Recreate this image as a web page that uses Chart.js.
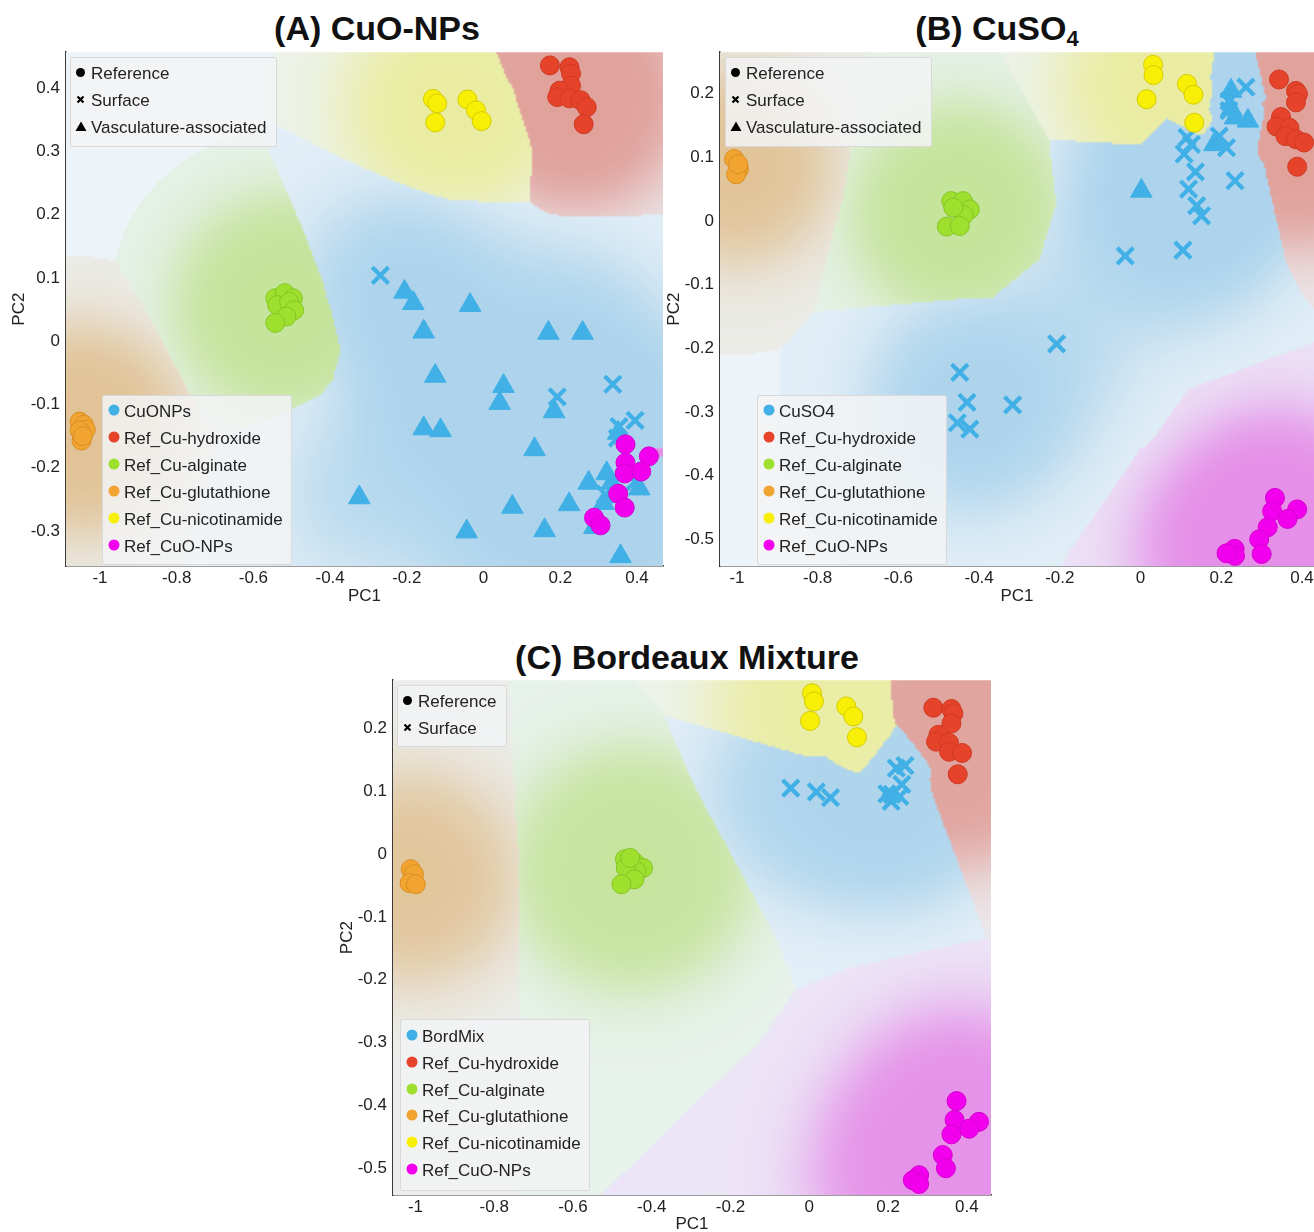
<!DOCTYPE html>
<html><head><meta charset="utf-8">
<script src="https://cdn.jsdelivr.net/npm/chart.js@4.4.0/dist/chart.umd.min.js"></script>
<style>
html,body{margin:0;padding:0;background:#fff;width:1314px;height:1232px;overflow:hidden;font-family:"Liberation Sans",Arial,sans-serif;}
.title{position:absolute;font-weight:bold;font-size:34px;line-height:38px;color:#111;white-space:nowrap;transform:translateX(-50%);}
.title sub{font-size:22px;vertical-align:-6px;line-height:0;}
canvas{position:absolute;}
.legend{position:absolute;background:rgba(242,243,244,0.86);border:1px solid #d9d9d9;border-radius:2px;z-index:5;}
.item{position:absolute;white-space:nowrap;font-size:17px;line-height:20px;color:#222;}
.sym{position:absolute;}
</style></head><body>
<div class="title" style="left:377px;top:9px;">(A) CuO-NPs</div>
<div class="title" style="left:997px;top:9px;">(B) CuSO<sub>4</sub></div>
<div class="title" style="left:687px;top:638px;">(C) Bordeaux Mixture</div>
<canvas id="cA"></canvas>
<canvas id="cB"></canvas>
<canvas id="cC"></canvas>
<script>
// ---------------- DATA ----------------
const xTicks  = [-1, -0.8, -0.6, -0.4, -0.2, 0, 0.2, 0.4];
const yTicksA = [-0.3, -0.2, -0.1, 0, 0.1, 0.2, 0.3, 0.4];
const yTicksB = [-0.5, -0.4, -0.3, -0.2, -0.1, 0, 0.1, 0.2];
const yTicksC = [-0.5, -0.4, -0.3, -0.2, -0.1, 0, 0.1, 0.2];

const shapeNames = ['Reference', 'Surface', 'Vasculature-associated'];
const refNames = ['Ref_Cu-hydroxide', 'Ref_Cu-alginate', 'Ref_Cu-glutathione', 'Ref_Cu-nicotinamide', 'Ref_CuO-NPs'];
const sampleNames = ['CuONPs', 'CuSO4', 'BordMix'];

// Panel A: CuO-NPs
const A_vasc = [[-0.206,0.078],[-0.183,0.060],[-0.035,0.057],[-0.156,0.015],[0.169,0.013],[0.258,0.013],
  [-0.126,-0.055],[0.052,-0.071],[0.042,-0.098],[0.184,-0.111],[-0.156,-0.138],[-0.112,-0.141],
  [0.133,-0.171],[-0.324,-0.247],[0.075,-0.262],[-0.044,-0.301],[0.159,-0.299],[0.223,-0.258],
  [0.274,-0.224],[0.321,-0.209],[0.334,-0.224],[0.406,-0.233],[0.313,-0.256],[0.289,-0.294],
  [0.357,-0.340],[0.351,-0.145]];
const A_surf = [[-0.269,0.104],[0.192,-0.088],[0.337,-0.068],[0.395,-0.125],[0.353,-0.135],[0.349,-0.153],[0.395,-0.222],[0.318,-0.242]];
const A_hyd = [[0.173,0.436],[0.224,0.433],[0.228,0.423],[0.228,0.404],[0.198,0.396],[0.192,0.386],[0.224,0.384],[0.253,0.381],[0.269,0.370],[0.261,0.343]];
const A_alg = [[-0.543,0.068],[-0.518,0.076],[-0.497,0.068],[-0.538,0.057],[-0.507,0.062],[-0.494,0.049],[-0.514,0.039],[-0.543,0.029]];
const A_glu = [[-1.053,-0.127],[-1.042,-0.132],[-1.037,-0.140],[-1.048,-0.157],[-1.053,-0.141],[-1.045,-0.150]];
const A_nic = [[-0.132,0.383],[-0.121,0.376],[-0.126,0.346],[-0.042,0.382],[-0.020,0.365],[-0.005,0.348]];
const A_cuo = [[0.370,-0.163],[0.370,-0.192],[0.368,-0.209],[0.431,-0.182],[0.411,-0.206],[0.351,-0.241],[0.368,-0.263],[0.288,-0.279],[0.305,-0.291]];

// Panel B: CuSO4
const B_vasc = [[0.224,0.204],[0.002,0.047],[0.234,0.162],[0.266,0.157],[0.183,0.120],[0.225,0.175]];
const B_surf = [[0.261,0.210],[0.219,0.188],[0.219,0.173],[0.115,0.131],[0.126,0.120],[0.108,0.105],[0.195,0.133],
  [0.213,0.115],[0.136,0.077],[0.119,0.050],[0.139,0.024],[0.151,0.008],[0.234,0.063],[-0.038,-0.055],[0.105,-0.046],
  [-0.208,-0.193],[-0.448,-0.238],[-0.430,-0.285],[-0.317,-0.289],[-0.454,-0.317],[-0.423,-0.327]];
const B_hyd = [[0.343,0.222],[0.385,0.204],[0.390,0.199],[0.385,0.186],[0.348,0.163],[0.337,0.148],[0.369,0.146],[0.359,0.133],[0.385,0.128],[0.405,0.123],[0.388,0.085]];
const B_alg = [[-0.469,0.031],[-0.440,0.031],[-0.423,0.018],[-0.438,0.009],[-0.480,-0.009],[-0.448,-0.008],[-0.464,0.021]];
const B_glu = [[-1.007,0.097],[-0.995,0.081],[-1.002,0.073],[-0.997,0.089]];
const B_nic = [[0.031,0.245],[0.032,0.229],[0.015,0.191],[0.115,0.215],[0.131,0.198],[0.133,0.154]];
const B_cuo = [[0.333,-0.435],[0.326,-0.456],[0.388,-0.453],[0.364,-0.468],[0.315,-0.481],[0.294,-0.500],[0.300,-0.523],[0.233,-0.515],[0.234,-0.526],[0.213,-0.522]];

// Panel C: Bordeaux Mixture
const C_surf = [[-0.047,0.105],[0.018,0.099],[0.054,0.090],[0.197,0.096],[0.208,0.084],[0.221,0.137],[0.243,0.141],[0.235,0.111],[0.230,0.092],[0.210,0.095]];
const C_hyd = [[0.315,0.233],[0.361,0.231],[0.366,0.224],[0.361,0.208],[0.328,0.190],[0.322,0.179],[0.355,0.177],[0.355,0.163],[0.388,0.161],[0.377,0.127]];
const C_alg = [[-0.468,-0.008],[-0.442,-0.014],[-0.422,-0.022],[-0.439,-0.027],[-0.466,-0.022],[-0.444,-0.040],[-0.477,-0.048],[-0.455,-0.006]];
const C_glu = [[-1.012,-0.024],[-1.004,-0.032],[-1.015,-0.046],[-0.999,-0.048]];
const C_nic = [[0.007,0.256],[0.012,0.243],[0.002,0.212],[0.094,0.235],[0.112,0.219],[0.121,0.186]];
const C_cuo = [[0.374,-0.393],[0.369,-0.423],[0.431,-0.426],[0.406,-0.437],[0.361,-0.446],[0.339,-0.479],[0.347,-0.500],[0.279,-0.511],[0.263,-0.519],[0.279,-0.525]];

// ---------------- STYLE ----------------
// class index: 0 sample(blue), 1 hydroxide, 2 alginate, 3 glutathione, 4 nicotinamide, 5 CuO-NPs
const FILL   = ['#41b0e6', '#e6432b', '#9fe02f', '#f2a430', '#f7ef06', '#f200ee'];
const BORDER = ['#41b0e6', '#cf3a23', '#86c526', '#d98f24', '#d6cc00', '#d400d0'];
const REGION = [[120,185,225],[215,95,80],[165,215,80],[215,155,70],[232,230,90],[222,60,218]];
const BASE = [237,244,249];

Chart.defaults.font.family = '"Liberation Sans", Arial, sans-serif';
Chart.defaults.font.size = 17;
Chart.defaults.color = '#222';

const regionPlugin = {
  id: 'regions',
  beforeDatasetsDraw(chart, args, opts) {
    const {ctx, chartArea: a, scales} = chart;
    const xs = scales.x, ys = scales.y;
    const pts = [];
    chart.data.datasets.forEach(ds => ds.data.forEach(p =>
      pts.push([xs.getPixelForValue(p.x), ys.getPixelForValue(p.y), ds.cls])));
    const step = 2;
    const W = a.right - a.left, H = a.bottom - a.top;
    const w = Math.ceil(W / step), h = Math.ceil(H / step);
    const off = document.createElement('canvas'); off.width = w; off.height = h;
    const octx = off.getContext('2d');
    const img = octx.createImageData(w, h);
    const s2 = 2 * opts.sigma * opts.sigma;
    const sums = new Float64Array(6);
    for (let j = 0; j < h; j++) {
      for (let i = 0; i < w; i++) {
        const px = a.left + (i + 0.5) * step, py = a.top + (j + 0.5) * step;
        let best = Infinity, bc = 0, bestRaw = Infinity;
        sums.fill(0);
        for (let k = 0; k < pts.length; k++) {
          const p = pts[k];
          const dx = p[0] - px, dy = p[1] - py, d2 = dx * dx + dy * dy;
          const d = Math.sqrt(d2) - (p[2] === 0 ? opts.bias0 : 0);
          if (d < best) { best = d; bc = p[2]; }
          if (d2 < bestRaw) bestRaw = d2;
          sums[p[2]] += Math.exp(-d2 / s2);
        }
        let r = BASE[0], g = BASE[1], b = BASE[2];
        if (Math.sqrt(bestRaw) < opts.R) {
          const al = opts.a0 + opts.a1 * (1 - Math.exp(-sums[bc] * opts.k));
          const c = REGION[bc];
          r = r * (1 - al) + c[0] * al; g = g * (1 - al) + c[1] * al; b = b * (1 - al) + c[2] * al;
        }
        const o = (j * w + i) * 4;
        img.data[o] = r; img.data[o + 1] = g; img.data[o + 2] = b; img.data[o + 3] = 255;
      }
    }
    octx.putImageData(img, 0, 0);
    ctx.save();
    ctx.beginPath(); ctx.rect(a.left, a.top, W, H); ctx.clip();
    ctx.imageSmoothingEnabled = true;
    ctx.drawImage(off, 0, 0, w, h, a.left, a.top, w * step, h * step);
    ctx.restore();
  }
};

const toXY = arr => arr.map(p => ({x: p[0], y: p[1]}));
function refSet(arr, cls) {
  return {data: toXY(arr), cls, pointStyle: 'circle', pointRadius: 9.5, pointBorderWidth: 1,
    backgroundColor: FILL[cls], borderColor: BORDER[cls], order: 1};
}
function buildSets(vasc, surf, hyd, alg, glu, nic, cuo) {
  const sets = [];
  if (vasc) sets.push({data: toXY(vasc), cls: 0, pointStyle: 'triangle', pointRadius: 12.5, pointBorderWidth: 1,
    backgroundColor: FILL[0], borderColor: FILL[0], order: 3});
  sets.push({data: toXY(surf), cls: 0, pointStyle: 'crossRot', pointRadius: 11.5, pointBorderWidth: 4.2,
    backgroundColor: FILL[0], borderColor: FILL[0], order: 2});
  [hyd, alg, glu, nic, cuo].forEach((arr, i) => sets.push(refSet(arr, i + 1)));
  return sets;
}
const fmt = v => String(Math.round(v * 10) / 10);

function makeChart(id, g, datasets, yTicks, reg) {
  const cv = document.getElementById(id);
  cv.width = g.cw; cv.height = g.ch;
  cv.style.left = g.cl + 'px'; cv.style.top = g.ct + 'px';
  cv.style.width = g.cw + 'px'; cv.style.height = g.ch + 'px';
  g.padTop = g.T - g.ct; g.padRight = g.cl + g.cw - g.R;
  g.yW = g.L - g.cl; g.xH = g.ct + g.ch - g.B;
  const chart = new Chart(cv, {
    type: 'scatter',
    data: {datasets},
    plugins: [regionPlugin],
    options: {
      responsive: false, animation: false,
      layout: {padding: {top: g.padTop, right: g.padRight, left: 0, bottom: 0}},
      plugins: {legend: {display: false}, tooltip: {enabled: false}, regions: reg},
      scales: {
        x: {type: 'linear', min: g.xmin, max: g.xmax,
          afterFit: s => { s.height = g.xH; },
          afterBuildTicks: s => { s.ticks = xTicks.map(v => ({value: v})); },
          ticks: {padding: 2, callback: fmt, color: '#222', maxRotation: 0, autoSkip: false, includeBounds: false},
          grid: {display: true, drawOnChartArea: false, drawTicks: false},
          border: {display: true, color: '#3a3a3a', width: 1.5},
          title: {display: true, text: 'PC1', color: '#222', padding: {top: 0, bottom: 0}}},
        y: {type: 'linear', min: g.ymin, max: g.ymax,
          afterFit: s => { s.width = g.yW; },
          afterBuildTicks: s => { s.ticks = yTicks.map(v => ({value: v})); },
          ticks: {padding: 6, callback: fmt, color: '#222', autoSkip: false, includeBounds: false},
          grid: {display: true, drawOnChartArea: false, drawTicks: false},
          border: {display: true, color: '#3a3a3a', width: 1.5},
          title: {display: true, text: 'PC2', color: '#222', padding: {top: g.tp, bottom: g.tp}}}
      }
    }
  });
  // make the plot area land exactly on the intended box
  for (let it = 0; it < 4; it++) {
    const a = chart.chartArea;
    const dT = (g.T - g.ct) - a.top, dB = (g.B - g.ct) - a.bottom;
    const dL = (g.L - g.cl) - a.left, dR = (g.R - g.cl) - a.right;
    if (Math.abs(dT) < 0.3 && Math.abs(dB) < 0.3 && Math.abs(dL) < 0.3 && Math.abs(dR) < 0.3) break;
    g.padTop = Math.max(0, g.padTop + dT);
    g.padRight = Math.max(0, g.padRight - dR);
    g.yW += dL; g.xH -= dB;
    chart.options.layout.padding = {top: g.padTop, right: g.padRight, left: 0, bottom: 0};
    chart.update();
  }
  return chart;
}

const geoA = {cl: 0, ct: 36, cw: 680, ch: 571, L: 66, T: 52, R: 663, B: 566, xmin: -1.0886, xmax: 0.4678, ymin: -0.3553, ymax: 0.4569, tp: 9};
const geoB = {cl: 660, ct: 36, cw: 670, ch: 571, L: 720, T: 52, R: 1314, B: 566, xmin: -1.042, xmax: 0.4297, ymin: -0.5419, ymax: 0.2648, tp: 4};
const geoC = {cl: 330, ct: 664, cw: 680, ch: 571, L: 393, T: 680, R: 991, B: 1195, xmin: -1.0571, xmax: 0.4615, ymin: -0.5425, ymax: 0.2768, tp: 7};

makeChart('cA', geoA, buildSets(A_vasc, A_surf, A_hyd, A_alg, A_glu, A_nic, A_cuo), yTicksA, {R: 165, sigma: 50, a0: 0.1, a1: 0.45, k: 1, bias0: 24});
makeChart('cB', geoB, buildSets(B_vasc, B_surf, B_hyd, B_alg, B_glu, B_nic, B_cuo), yTicksB, {R: 180, sigma: 50, a0: 0.1, a1: 0.45, k: 1, bias0: 0});
makeChart('cC', geoC, buildSets(null, C_surf, C_hyd, C_alg, C_glu, C_nic, C_cuo), yTicksC, {R: 420, sigma: 55, a0: 0.08, a1: 0.45, k: 1, bias0: 0});

// ---------------- LEGENDS ----------------
const SYM = {
  circle: '<svg width="11" height="11"><circle cx="5.5" cy="5.5" r="4.5" fill="#000"/></svg>',
  cross: '<svg width="11" height="11"><path d="M2.5 2.5L8.5 8.5M8.5 2.5L2.5 8.5" stroke="#000" stroke-width="2.2"/></svg>',
  tri: '<svg width="12" height="11"><path d="M6 0.5L11.5 10H0.5Z" fill="#000"/></svg>'
};
function dot(c) { return '<svg width="12" height="12"><circle cx="6" cy="6" r="5.5" fill="' + c + '"/></svg>'; }
function legend(left, top, w, h, first, stepY, items, textX, symX) {
  const box = document.createElement('div');
  box.className = 'legend';
  box.style.left = left + 'px'; box.style.top = top + 'px';
  box.style.width = w + 'px'; box.style.height = h + 'px';
  items.forEach((it, i) => {
    const cy = first + i * stepY;
    const s = document.createElement('div');
    s.className = 'sym'; s.innerHTML = it.sym;
    s.style.left = (symX - 6) + 'px'; s.style.top = (cy - 10) + 'px';
    box.appendChild(s);
    const t = document.createElement('div');
    t.className = 'item'; t.textContent = it.text;
    t.style.left = textX + 'px'; t.style.top = (cy - 10) + 'px';
    box.appendChild(t);
  });
  document.body.appendChild(box);
}
const shapeSyms = [SYM.circle, SYM.cross, SYM.tri];
const shapeItems3 = shapeNames.map((n, i) => ({sym: shapeSyms[i], text: n}));
const classItems = s => [{sym: dot(FILL[0]), text: s}].concat(refNames.map((n, i) => ({sym: dot(FILL[i + 1]), text: n})));

legend(70, 57, 205, 88, 16, 27, shapeItems3, 20, 10);
legend(102, 395, 188, 168, 16, 27, classItems(sampleNames[0]), 21, 11);
legend(725, 57, 205, 88, 16, 27, shapeItems3, 20, 10);
legend(757, 395, 188, 168, 16, 27, classItems(sampleNames[1]), 21, 11);
legend(397, 685, 108, 60, 16, 27, shapeItems3.slice(0, 2), 20, 10);
legend(400, 1019, 188, 170, 17, 26.8, classItems(sampleNames[2]), 21, 11);
</script>
</body></html>
